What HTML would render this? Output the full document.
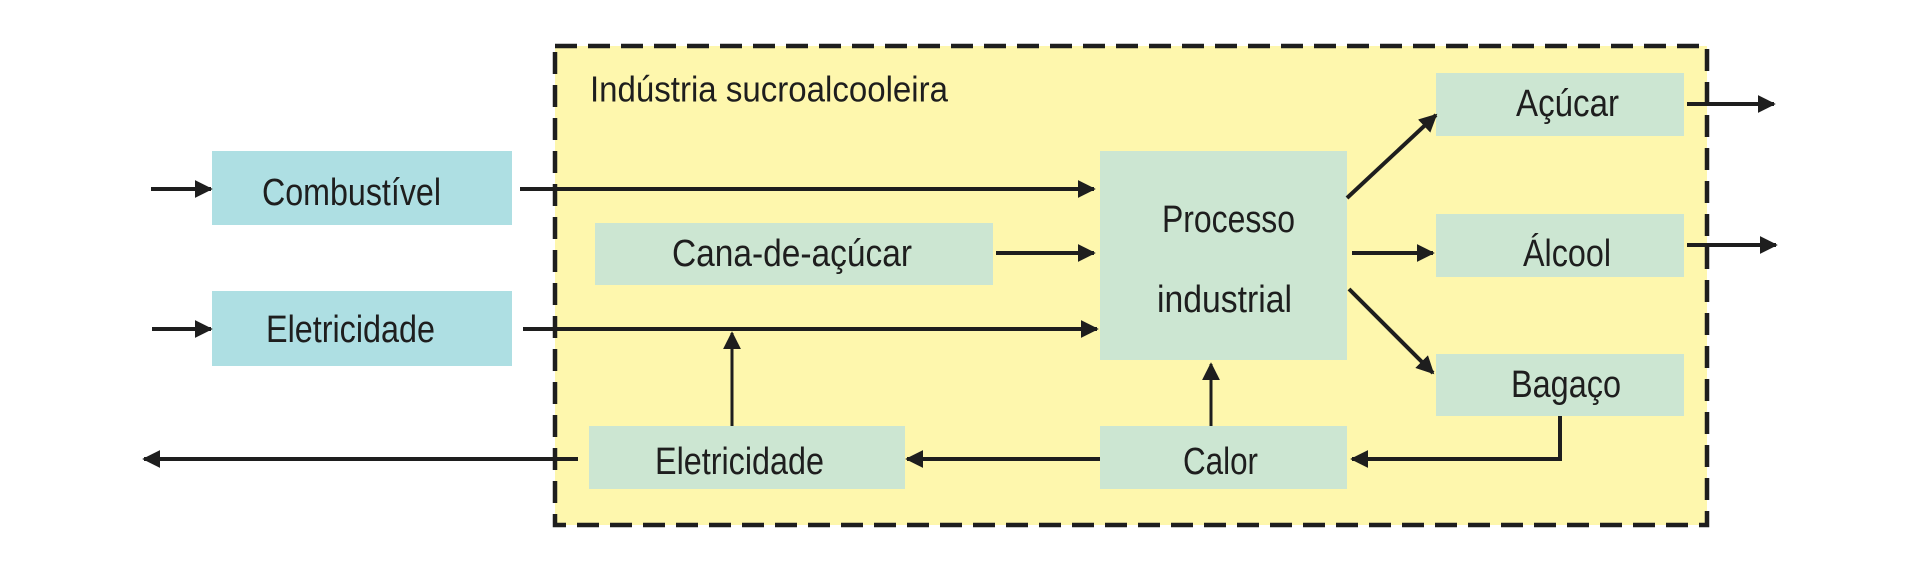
<!DOCTYPE html>
<html><head><meta charset="utf-8"><style>html,body{margin:0;padding:0;background:#fff}svg{display:block}</style></head>
<body>
<svg width="1920" height="570" viewBox="0 0 1920 570" xmlns="http://www.w3.org/2000/svg">
<defs>
<marker id="a" viewBox="0 0 10 10" refX="9" refY="5" markerWidth="4.5" markerHeight="4.5" orient="auto" markerUnits="strokeWidth"><path d="M0,0 L10,5 L0,10 z" fill="#1e1e1e"/></marker>
<marker id="b" viewBox="0 0 10 10" refX="9" refY="5" markerWidth="6" markerHeight="6" orient="auto" markerUnits="strokeWidth"><path d="M0,0 L10,5 L0,10 z" fill="#1e1e1e"/></marker>
</defs>
<rect x="555" y="46" width="1152" height="479" fill="#fef7ad" stroke="#1e1e1e" stroke-width="4.5" stroke-dasharray="22,11"/>
<g fill="#aedfe3"><rect x="212" y="151" width="300" height="74"/><rect x="212" y="291" width="300" height="75"/></g>
<g fill="#cce6d2">
<rect x="595" y="223" width="398" height="62"/>
<rect x="1100" y="151" width="247" height="209"/>
<rect x="1436" y="73" width="248" height="63"/>
<rect x="1436" y="214" width="248" height="63"/>
<rect x="1436" y="354" width="248" height="62"/>
<rect x="589" y="426" width="316" height="63"/>
<rect x="1100" y="426" width="247" height="63"/>
</g>
<g stroke="#1e1e1e" stroke-width="4" fill="none" marker-end="url(#a)">
<line x1="151" y1="189" x2="211" y2="189"/>
<line x1="520" y1="189" x2="1094" y2="189"/>
<line x1="996" y1="253" x2="1094" y2="253"/>
<line x1="152" y1="329" x2="211" y2="329"/>
<line x1="523" y1="329" x2="1097" y2="329"/>
<line x1="1100" y1="459" x2="907" y2="459"/>
<line x1="578" y1="459" x2="144" y2="459"/>
<polyline points="1560,416 1560,459 1352,459"/>
<line x1="1347" y1="198" x2="1436" y2="115"/>
<line x1="1352" y1="253" x2="1433" y2="253"/>
<line x1="1349" y1="289" x2="1433" y2="373"/>
<line x1="1687" y1="104" x2="1774" y2="104"/>
<line x1="1687" y1="245" x2="1776" y2="245"/>
</g>
<g stroke="#1e1e1e" stroke-width="3" fill="none" marker-end="url(#b)">
<line x1="732" y1="426" x2="732" y2="333"/>
<line x1="1211" y1="426" x2="1211" y2="364"/>
</g>
<g font-family="Liberation Sans, sans-serif" font-size="38" fill="#1e1e1e" dominant-baseline="central" lengthAdjust="spacingAndGlyphs">
<text x="590" y="89" font-size="36" textLength="358" lengthAdjust="spacingAndGlyphs">Indústria sucroalcooleira</text>
<text x="262" y="193" textLength="179" lengthAdjust="spacingAndGlyphs">Combustível</text>
<text x="266" y="330" textLength="169" lengthAdjust="spacingAndGlyphs">Eletricidade</text>
<text x="672" y="254" textLength="240" lengthAdjust="spacingAndGlyphs">Cana-de-açúcar</text>
<text x="1162" y="220" textLength="133" lengthAdjust="spacingAndGlyphs">Processo</text>
<text x="1157" y="300" textLength="135" lengthAdjust="spacingAndGlyphs">industrial</text>
<text x="1516" y="104" textLength="103" lengthAdjust="spacingAndGlyphs">Açúcar</text>
<text x="1523" y="254" textLength="88" lengthAdjust="spacingAndGlyphs">Álcool</text>
<text x="1511" y="385" textLength="110" lengthAdjust="spacingAndGlyphs">Bagaço</text>
<text x="655" y="462" textLength="169" lengthAdjust="spacingAndGlyphs">Eletricidade</text>
<text x="1183" y="462" textLength="75" lengthAdjust="spacingAndGlyphs">Calor</text>
</g>
</svg>
</body></html>
